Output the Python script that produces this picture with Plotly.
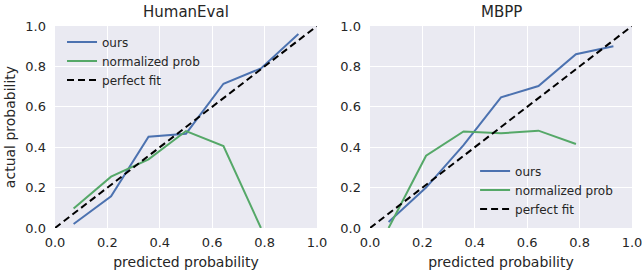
import plotly.graph_objects as go

bins = [0.071, 0.214, 0.357, 0.5, 0.643, 0.786, 0.929]
he_ours = [0.02, 0.157, 0.452, 0.467, 0.714, 0.79, 0.96]
he_norm = [0.097, 0.254, 0.34, 0.48, 0.406, 0.0]
mb_ours = [0.03, 0.2, 0.41, 0.647, 0.703, 0.86, 0.9]
mb_norm = [0.0, 0.358, 0.478, 0.469, 0.482, 0.416]
fit = [0.0, 1.0]
ticks = [0.0, 0.2, 0.4, 0.6, 0.8, 1.0]
tick_text = ["0.0", "0.2", "0.4", "0.6", "0.8", "1.0"]
titles = ["HumanEval", "MBPP"]

BLUE = "#4C72B0"
GREEN = "#55A868"
TXT = "#262626"
FONT = "DejaVu Sans"

W, H = 642, 276

fig = go.Figure()

panels = [
    ("x", "y", he_ours, he_norm, "legend"),
    ("x2", "y2", mb_ours, mb_norm, "legend2"),
]
for xa, ya, ours, norm, lg in panels:
    fig.add_trace(go.Scatter(x=bins, y=ours, mode="lines", name="ours",
                             line=dict(color=BLUE, width=2), xaxis=xa, yaxis=ya, legend=lg))
    fig.add_trace(go.Scatter(x=bins[:len(norm)], y=norm, mode="lines", name="normalized prob",
                             line=dict(color=GREEN, width=2), xaxis=xa, yaxis=ya, legend=lg))
    fig.add_trace(go.Scatter(x=fit, y=fit, mode="lines", name="perfect fit",
                             line=dict(color="black", width=2, dash="7px,4px"), xaxis=xa, yaxis=ya, legend=lg))

ax_common = dict(range=[0, 1], tickvals=ticks, ticktext=tick_text, showgrid=True,
                 gridcolor="white", gridwidth=1, zeroline=False, showline=False, ticks="",
                 tickfont=dict(size=13, color=TXT, family=FONT), fixedrange=True,
                 automargin=False, ticklabeloverflow="allow")

xd1 = [55 / W, 317 / W]
xd2 = [370 / W, 632 / W]
yd = [48 / H, 250 / H]

fig.update_layout(
    width=W, height=H,
    margin=dict(l=0, r=0, t=0, b=0),
    paper_bgcolor="white", plot_bgcolor="#EAEAF2",
    font=dict(family=FONT, color=TXT, size=12),
    xaxis=dict(domain=xd1, anchor="y", ticklabelstandoff=5,
               title=dict(text="predicted probability", font=dict(size=14), standoff=8), **ax_common),
    yaxis=dict(domain=yd, anchor="x", ticklabelstandoff=8,
               title=dict(text="actual probability", font=dict(size=14), standoff=6), **ax_common),
    xaxis2=dict(domain=xd2, anchor="y2", ticklabelstandoff=5,
                title=dict(text="predicted probability", font=dict(size=14), standoff=8), **ax_common),
    yaxis2=dict(domain=yd, anchor="x2", ticklabelstandoff=8, **ax_common),
    legend=dict(x=0.0966, y=0.9004, xanchor="left", yanchor="top",
                bgcolor="rgba(0,0,0,0)", font=dict(size=12, color=TXT), tracegroupgap=0,
                itemwidth=30),
    legend2=dict(x=0.740, y=0.433, xanchor="left", yanchor="top",
                 bgcolor="rgba(0,0,0,0)", font=dict(size=12, color=TXT), tracegroupgap=0,
                 itemwidth=30),
    annotations=[
        dict(text=titles[0], x=(xd1[0] + xd1[1]) / 2, y=yd[1], xref="paper", yref="paper",
             xanchor="center", yanchor="bottom", yshift=3, showarrow=False,
             font=dict(size=15, color=TXT, family=FONT)),
        dict(text=titles[1], x=(xd2[0] + xd2[1]) / 2, y=yd[1], xref="paper", yref="paper",
             xanchor="center", yanchor="bottom", yshift=3, showarrow=False,
             font=dict(size=15, color=TXT, family=FONT)),
    ],
)

fig.write_html("out.html", config={"displayModeBar": False},
               post_script="document.body.style.margin='0';document.body.style.overflow='hidden';")
